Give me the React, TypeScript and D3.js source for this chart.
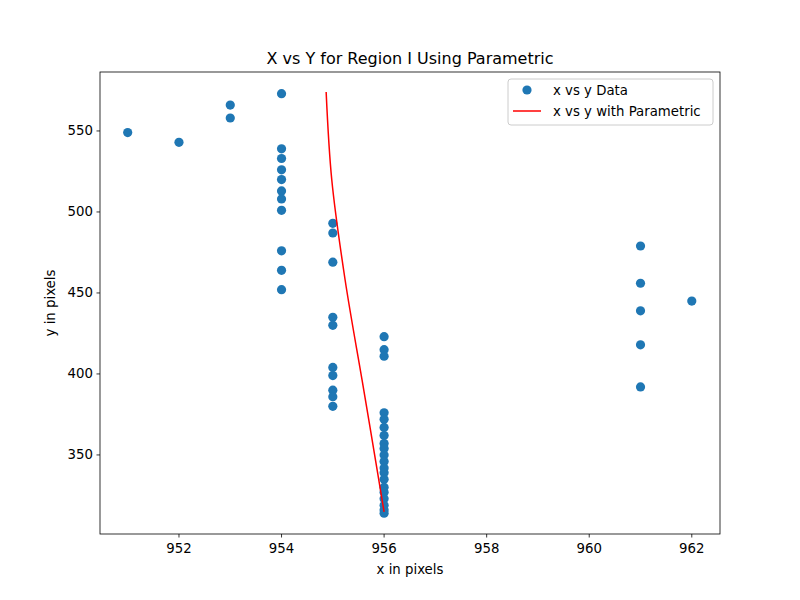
import React from "react";
import * as d3 from "d3";

const dataX = [951, 952, 953, 953, 954, 954, 954, 954, 954, 954, 954, 954, 954, 954, 954,
  955, 955, 955, 955, 955, 955, 955, 955, 955, 955,
  956, 956, 956, 956, 956, 956, 956, 956, 956, 956, 956, 956, 956, 956, 956, 956, 956, 956, 956, 956,
  961, 961, 961, 961, 961, 962];
const dataY = [549, 543, 566, 558, 573, 539, 533, 526, 520, 513, 508, 501, 476, 464, 452,
  493, 487, 469, 435, 430, 404, 399, 390, 386, 380,
  423, 415, 411, 376, 372, 367, 362, 357, 354, 350, 346, 342, 339, 335, 330, 327, 323, 319, 316, 314,
  479, 456, 439, 418, 392, 445];
const fitX = [954.87, 954.98, 955.24, 955.57, 955.79, 956.0];
const fitY = [574.1, 519.7, 458.0, 396.3, 354.9, 314.8];
const xTicks = [952, 954, 956, 958, 960, 962];
const yTicks = [350, 400, 450, 500, 550];

export default function App() {
  const L = 100, R = 720, T = 72, B = 534;
  const x = d3.scaleLinear().domain([950.46, 962.55]).range([L, R]);
  const y = d3.scaleLinear().domain([301.2, 586.4]).range([B, T]);
  const line = d3.line<number>().x((_, i) => x(fitX[i])).y((_, i) => y(fitY[i])).curve(d3.curveCatmullRom);
  const font = "DejaVu Sans";
  const fs = 13.3;
  return (
    <svg width={800} height={600} style={{ position: "absolute", left: 0, top: 0 }} fontFamily={font}>
      <rect width={800} height={600} fill="#fff" />
      {dataX.map((v, i) => (
        <circle key={i} cx={x(v)} cy={y(dataY[i])} r={4.6} fill="#1f77b4" />
      ))}
      <path d={line(fitX) || ""} fill="none" stroke="red" strokeWidth={1.5} />
      <rect x={L} y={T} width={R - L} height={B - T} fill="none" stroke="#000" strokeWidth={0.8} />
      {xTicks.map(t => (
        <g key={t}>
          <line x1={x(t)} x2={x(t)} y1={B} y2={B + 3.5} stroke="#000" strokeWidth={0.8} />
          <text x={x(t)} y={B + 19} fontSize={fs} textAnchor="middle">{t}</text>
        </g>
      ))}
      {yTicks.map(t => (
        <g key={t}>
          <line x1={L - 3.5} x2={L} y1={y(t)} y2={y(t)} stroke="#000" strokeWidth={0.8} />
          <text x={L - 7} y={y(t) + 4.5} fontSize={fs} textAnchor="end">{t}</text>
        </g>
      ))}
      <text x={410} y={574} fontSize={fs} textAnchor="middle">x in pixels</text>
      <text transform={`translate(55,303) rotate(-90)`} fontSize={fs} textAnchor="middle">y in pixels</text>
      <text x={410} y={64} fontSize={16} textAnchor="middle">X vs Y for Region I Using Parametric</text>
      <rect x={508} y={79} width={205} height={46} fill="#fff" stroke="#ccc" rx={3} />
      <circle cx={527} cy={90} r={4.6} fill="#1f77b4" />
      <text x={553} y={95} fontSize={fs}>x vs y Data</text>
      <line x1={513} x2={541} y1={111} y2={111} stroke="red" strokeWidth={1.5} />
      <text x={553} y={116} fontSize={fs}>x vs y with Parametric</text>
    </svg>
  );
}
